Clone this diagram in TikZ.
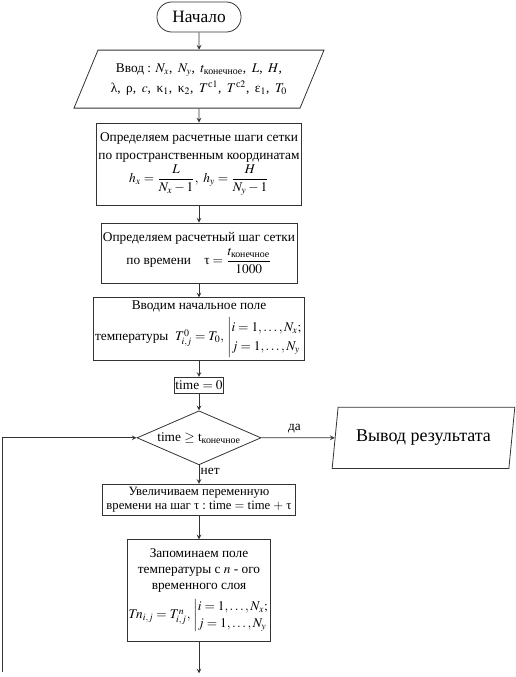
\documentclass[tikz,border=0pt]{standalone}
\usepackage{amsmath}
\usepackage{mathptmx}
\usepackage[no-math]{fontspec}
\setmainfont{Liberation Serif}
\usetikzlibrary{positioning,shapes.geometric}
\begin{document}
\begin{tikzpicture}[node distance=12pt,
    every node/.style={font=\fontsize{10}{13}\selectfont},
    block/.style={
      % The shape:
      rectangle,align=center,inner sep=1pt,
      % The rest
      draw=black!80,line width=0.6pt},
    terminal/.style={
      rectangle,rounded corners=11pt,minimum width=63pt,minimum height=22.5pt,
      draw=black!80,line width=0.6pt,
      font=\fontsize{13}{16}\selectfont},
    io/.style={
      trapezium,trapezium stretches body,align=center,inner sep=1pt,
      draw=black!80,line width=0.6pt},
    decision/.style={
      diamond,aspect=2.3,inner sep=0pt,minimum width=93pt,minimum height=40.5pt,
      draw=black!80,line width=0.6pt},
    flow/.style={-stealth,line width=0.6pt,draw=black!80}]
    \useasboundingbox (0,0) rectangle (387pt,-507.75pt);
    \node (start) [terminal] at (149.25pt,-12.75pt) {Начало};
    \node (input) [io,below=13pt of start,trapezium left angle=55,trapezium right angle=125,
      minimum width=187.5pt,minimum height=43.5pt]
      {Ввод : $N_x$,\, $N_y$,\, $t_{\text{конечное}}$,\, $L$,\, $H$,\\[2pt]
       λ,\, ρ,\, $c$,\, κ$_1$,\, κ$_2$,\, $T^{\text{с}1}$,\, $T^{\text{с}2}$,\, ε$_1$,\, $T_0$};
    \node (space) [block,below=10.5pt of input,minimum width=154pt,minimum height=62pt]
      {Определяем расчетные шаги сетки\\
       по пространственным координатам\\[1pt]
       $h_x=\dfrac{L}{N_x-1},\ h_y=\dfrac{H}{N_y-1}$};
    \node (step) [block,below=12.5pt of space,minimum width=147pt,minimum height=45pt]
      {Определяем расчетный шаг сетки\\[2pt]
       по времени\quad $\text{τ}=\dfrac{t_{\text{конечное}}}{1000}$};
    \node (init) [block,below=10.5pt of step,minimum width=153pt,minimum height=47pt]
      {Вводим начальное поле\\[3pt]
       температуры\ \ $T^0_{i,j}=T_0,\,\left|\begin{array}{@{}l@{}}i=1,\dots,N_x;\\[1pt] j=1,\dots,N_y\end{array}\right.$};
    \node (time) [block,below=12pt of init,minimum width=35pt,minimum height=12pt,inner sep=0.5pt]
      {time $=0$};
    \node (dec) [decision,below=12.5pt of time]
      {time $\geq$ t$_{\text{конечное}}$};
    \node (out) [io,right=55pt of dec,trapezium left angle=72,trapezium right angle=108,
      minimum width=137pt,minimum height=46pt,font=\fontsize{13.5}{16}\selectfont]
      {Вывод результата};
    \node (inc) [block,below=14pt of dec,minimum width=145pt,minimum height=23pt,
      font=\fontsize{9.5}{11}\selectfont]
      {Увеличиваем переменную\\
       времени на шаг τ :\ time $=$ time $+$ τ};
    \node (mem) [block,below=18pt of inc,minimum width=99pt,minimum height=76pt,
      font=\fontsize{10}{12}\selectfont]
      {Запоминаем поле\\
       температуры с $n$ - ого\\
       временного слоя\\[4pt]
       $T\!n_{i,j}=T^n_{i,j},\,\left|\begin{array}{@{}l@{}}i=1,\dots,N_x;\\[1pt] j=1,\dots,N_y\end{array}\right.$};
    \coordinate (next) at ([yshift=-24pt]mem.south);
    \coordinate (back) at (1.5pt,-504pt);
    \draw[flow]  (start) -- (input);
    \draw[flow]  (input) -- (space);
    \draw[flow]  (space) -- (step);
    \draw[flow]  (step) -- (init);
    \draw[flow]  (init) -- (time);
    \draw[flow]  (time) -- (dec);
    \draw[flow]  (dec) -- node[above,pos=0.45] {да} (out);
    \draw[flow]  (dec) -- node[pos=0.35,right,inner sep=1pt] {нет} (inc);
    \draw[flow]  (inc) -- (mem);
    \draw[flow]  (mem) -- (next);
    \draw[flow]  (back) |- (dec);
  \end{tikzpicture}
\end{document}
